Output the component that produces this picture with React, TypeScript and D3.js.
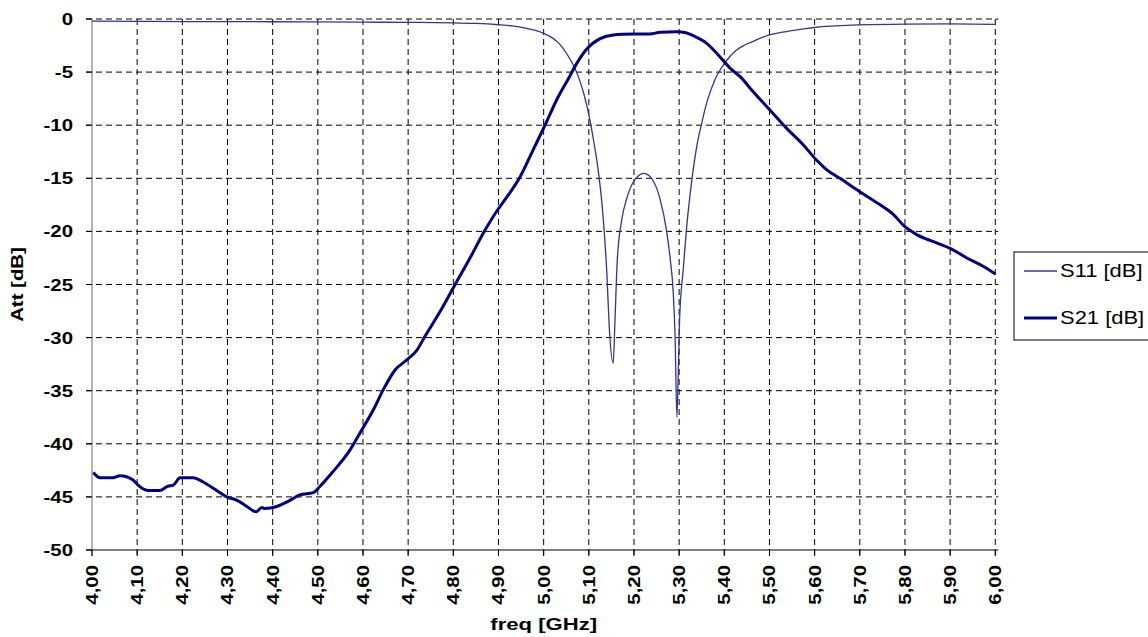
import React from "react";
import * as d3 from "d3";

const s11Freq = [4.0, 4.1, 4.2, 4.3, 4.4, 4.5, 4.6, 4.7, 4.8, 4.85, 4.9, 4.93, 4.96, 4.98, 5.0, 5.02, 5.03, 5.04, 5.05, 5.06, 5.07, 5.08, 5.09, 5.1, 5.11, 5.12, 5.13, 5.14, 5.145, 5.154, 5.158, 5.163, 5.173, 5.184, 5.199, 5.21, 5.221, 5.23, 5.239, 5.25, 5.258, 5.272, 5.28, 5.287, 5.291, 5.295, 5.298, 5.301, 5.309, 5.316, 5.328, 5.339, 5.35, 5.361, 5.379, 5.4, 5.427, 5.445, 5.464, 5.48, 5.5, 5.55, 5.6, 5.7, 5.8, 5.9, 6.0];
const s11Values = [-0.2, -0.22, -0.24, -0.25, -0.26, -0.28, -0.3, -0.32, -0.36, -0.42, -0.54, -0.65, -0.85, -1.05, -1.35, -1.8, -2.13, -2.6, -3.2, -3.9, -4.7, -5.8, -7.2, -9.0, -11.3, -14.0, -17.8, -24.0, -28.8, -32.4, -28.3, -22.7, -18.9, -16.9, -15.3, -14.75, -14.53, -14.65, -15.0, -15.9, -17.0, -19.9, -22.5, -25.8, -29.9, -37.5, -33.4, -28.3, -23.6, -19.9, -15.2, -12.0, -9.8, -7.9, -5.74, -4.2, -2.92, -2.45, -2.1, -1.8, -1.5, -1.1, -0.8, -0.56, -0.48, -0.46, -0.5];

const s21Freq = [4.003, 4.018, 4.047, 4.062, 4.091, 4.102, 4.124, 4.15, 4.168, 4.18, 4.195, 4.224, 4.246, 4.276, 4.298, 4.32, 4.343, 4.363, 4.376, 4.383, 4.409, 4.435, 4.461, 4.49, 4.505, 4.534, 4.571, 4.593, 4.623, 4.645, 4.671, 4.697, 4.719, 4.737, 4.77, 4.804, 4.837, 4.87, 4.896, 4.918, 4.948, 4.977, 5.003, 5.029, 5.055, 5.073, 5.095, 5.125, 5.154, 5.199, 5.235, 5.258, 5.295, 5.315, 5.331, 5.361, 5.39, 5.413, 5.435, 5.464, 5.501, 5.538, 5.575, 5.604, 5.627, 5.656, 5.7, 5.745, 5.774, 5.8, 5.826, 5.863, 5.9, 5.937, 5.974, 6.0];
const s21Values = [-42.7, -43.2, -43.2, -43.0, -43.4, -43.9, -44.4, -44.4, -44.0, -43.9, -43.2, -43.2, -43.6, -44.4, -45.0, -45.3, -45.9, -46.4, -46.0, -46.1, -45.9, -45.4, -44.8, -44.6, -44.0, -42.6, -40.6, -39.0, -36.8, -34.9, -33.05, -32.1, -31.2, -29.9, -27.6, -25.0, -22.5, -19.9, -18.1, -16.8, -14.85, -12.3, -10.0, -7.6, -5.6, -4.2, -2.85, -1.85, -1.5, -1.42, -1.41, -1.25, -1.2, -1.3, -1.57, -2.29, -3.55, -4.64, -5.43, -6.85, -8.57, -10.3, -11.86, -13.28, -14.2, -15.0, -16.26, -17.5, -18.4, -19.56, -20.3, -20.97, -21.6, -22.5, -23.3, -24.0];

const xTicks = d3.range(0, 21).map((i) => 4 + i * 0.1);
const yTicks = [0, -5, -10, -15, -20, -25, -30, -35, -40, -45, -50];
const seriesNames = ["S11 [dB]", "S21 [dB]"];

const W = 1148;
const H = 637;
const left = 92;
const right = 995.3;
const top = 19;
const bottom = 550;
const FONT = "Arial, 'Liberation Sans', sans-serif";
const SX = 1.2;

export default function App() {
  const x = d3.scaleLinear().domain([4, 6]).range([left, right]);
  const y = d3.scaleLinear().domain([0, -50]).range([top, bottom]);

  const s11Line = d3
    .line<number>()
    .x((_, i) => x(s11Freq[i]))
    .y((d) => y(d))
    .curve(d3.curveMonotoneX)(s11Values);
  const s21Line = d3
    .line<number>()
    .x((_, i) => x(s21Freq[i]))
    .y((d) => y(d))
    .curve(d3.curveMonotoneX)(s21Values);

  return (
    <svg
      width={W}
      height={H}
      style={{ position: "absolute", left: 0, top: 0, background: "#fff" }}
      fontFamily={FONT}
    >
      {/* horizontal grid */}
      {yTicks.slice(0, -1).map((t) => (
        <line key={"hg" + t} x1={left - 6} x2={right + 3} y1={y(t)} y2={y(t)} stroke="#000" strokeWidth={1} strokeDasharray="6,4" />
      ))}
      {/* vertical grid */}
      {xTicks.slice(1).map((t) => (
        <line key={"vg" + t} x1={x(t)} x2={x(t)} y1={top} y2={bottom + 6} stroke="#000" strokeWidth={1} strokeDasharray="6,4" />
      ))}
      {/* left axis */}
      <line x1={left} x2={left} y1={top} y2={bottom + 6} stroke="#808080" strokeWidth={1.2} />
      {yTicks.map((t) => (
        <line key={"yt" + t} x1={left - 6} x2={left} y1={y(t)} y2={y(t)} stroke="#000" strokeWidth={1} />
      ))}
      {/* bottom axis */}
      <line x1={left - 6} x2={right + 3} y1={bottom} y2={bottom} stroke="#000" strokeWidth={1.2} />
      {xTicks.map((t) => (
        <line key={"xt" + t} x1={x(t)} x2={x(t)} y1={bottom} y2={bottom + 6} stroke="#000" strokeWidth={1} />
      ))}

      {/* series */}
      <path d={s11Line || ""} fill="none" stroke="#333399" strokeWidth={1.3} />
      <path d={s21Line || ""} fill="none" stroke="#000080" strokeWidth={3} strokeLinejoin="round" />

      {/* y tick labels */}
      {yTicks.map((t) => (
        <text
          key={"yl" + t}
          transform={`translate(${left - 19},${y(t) + 6}) scale(${SX},1)`}
          textAnchor="end"
          fontSize={17}
          fontWeight="bold"
        >
          {String(t)}
        </text>
      ))}
      {/* x tick labels */}
      {xTicks.map((t) => (
        <text
          key={"xl" + t}
          transform={`translate(${x(t) + 6},${bottom + 15}) rotate(-90) scale(${SX},1)`}
          textAnchor="end"
          fontSize={17}
          fontWeight="bold"
        >
          {t.toFixed(2).replace(".", ",")}
        </text>
      ))}

      {/* axis titles */}
      <text
        transform={`translate(23,${(top + bottom) / 2}) rotate(-90) scale(${SX},1)`}
        textAnchor="middle"
        fontSize={17}
        fontWeight="bold"
      >
        Att [dB]
      </text>
      <text
        transform={`translate(${(left + right) / 2},630) scale(1.3,1)`}
        textAnchor="middle"
        fontSize={17}
        fontWeight="bold"
      >
        freq [GHz]
      </text>

      {/* legend */}
      <rect x={1014} y={252} width={140} height={88} fill="#fff" stroke="#000" strokeWidth={1} />
      <line x1={1024} x2={1057} y1={271} y2={271} stroke="#333399" strokeWidth={1.3} />
      <line x1={1024} x2={1057} y1={318} y2={318} stroke="#000080" strokeWidth={3} />
      <text transform={`translate(1060,277) scale(1.22,1)`} fontSize={18}>
        {seriesNames[0]}
      </text>
      <text transform={`translate(1060,324) scale(1.22,1)`} fontSize={18}>
        {seriesNames[1]}
      </text>
    </svg>
  );
}
